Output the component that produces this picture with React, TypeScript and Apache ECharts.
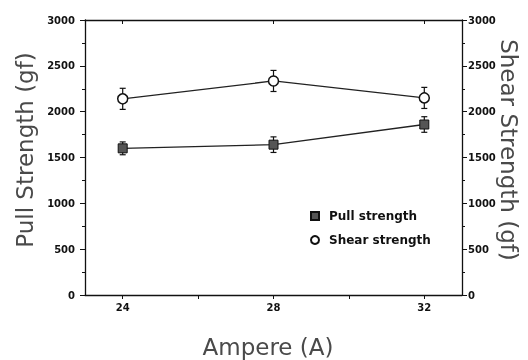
import React, { useEffect, useRef } from "react";
import * as echarts from "echarts";

const amperes = [24, 28, 32];
const pullStrength = [1600, 1640, 1860];
const pullError = [70, 85, 85];
const shearStrength = [2140, 2335, 2150];
const shearError = [115, 115, 115];
const xTickLabels = [24, 28, 32];

const FONT_TICK = "DejaVu Sans";
const FONT_TITLE = "DejaVu Sans";

export default function App() {
  const ref = useRef<HTMLDivElement>(null);
  useEffect(() => {
    if (!ref.current) return;
    const chart = echarts.init(ref.current, undefined, { renderer: "svg" });

    const pullData = amperes.map((a, i) => [a, pullStrength[i]]);
    const shearData = amperes.map((a, i) => [a, shearStrength[i]]);
    const errData = [
      ...amperes.map((a, i) => [a, pullStrength[i] - pullError[i], pullStrength[i] + pullError[i]]),
      ...amperes.map((a, i) => [a, shearStrength[i] - shearError[i], shearStrength[i] + shearError[i]]),
    ];

    const yAxisCommon = {
      type: "value" as const,
      min: 0,
      max: 3000,
      interval: 500,
      splitLine: { show: false },
      axisLine: { show: true, lineStyle: { color: "#111", width: 1.3 } },
      axisTick: { show: true, length: 5, lineStyle: { color: "#111" } },
      minorTick: { show: true, splitNumber: 2, length: 3, lineStyle: { color: "#111" } },
      minorSplitLine: { show: false },
      axisLabel: {
        fontFamily: FONT_TICK,
        fontWeight: "bold" as const,
        fontSize: 10,
        color: "#111",
        formatter: (v: number) => String(v),
      },
    };

    const titleStyle = {
      fontFamily: FONT_TITLE,
      fontSize: 23,
      fill: "#4a4a4a",
      align: "center" as const,
      verticalAlign: "middle" as const,
    };

    chart.setOption({
      animation: false,
      grid: { left: 85, right: 66, top: 20, bottom: 65, containLabel: false },
      xAxis: [
        {
          type: "value",
          min: 23,
          max: 33,
          splitLine: { show: false },
          axisLine: { show: true, onZero: false, lineStyle: { color: "#111", width: 1.3 } },
          axisTick: { show: true, length: 4, customValues: [24, 26, 28, 30, 32], lineStyle: { color: "#111" } },
          axisLabel: {
            customValues: xTickLabels,
            margin: 7,
            fontFamily: FONT_TICK,
            fontWeight: "bold",
            fontSize: 10,
            color: "#111",
          },
        },
        {
          type: "value",
          position: "top",
          min: 23,
          max: 33,
          splitLine: { show: false },
          axisLine: { show: true, onZero: false, lineStyle: { color: "#111", width: 1.3 } },
          axisTick: { show: true, inside: true, length: 4, customValues: [24, 28, 32], lineStyle: { color: "#111" } },
          axisLabel: { show: false },
        },
      ],
      yAxis: [
        { ...yAxisCommon, position: "left", axisLabel: { ...yAxisCommon.axisLabel, margin: 10 } },
        { ...yAxisCommon, position: "right", axisLabel: { ...yAxisCommon.axisLabel, margin: 6 } },
      ],
      legend: {
        orient: "vertical",
        left: 305,
        top: 205,
        itemWidth: 8,
        itemHeight: 8,
        itemGap: 12,
        textStyle: {
          fontFamily: FONT_TICK,
          fontWeight: "bold",
          fontSize: 12,
          color: "#111",
          padding: [0, 0, 0, 5],
        },
        data: [
          { name: "Pull strength", icon: "rect" },
          { name: "Shear strength", icon: "circle" },
        ],
      },
      graphic: [
        {
          type: "text",
          x: 25,
          y: 150,
          rotation: Math.PI / 2,
          style: { ...titleStyle, text: "Pull Strength (gf)" },
        },
        {
          type: "text",
          x: 509,
          y: 150,
          rotation: -Math.PI / 2,
          style: { ...titleStyle, text: "Shear Strength (gf)" },
        },
        {
          type: "text",
          x: 268,
          y: 347,
          style: { ...titleStyle, text: "Ampere (A)" },
        },
      ],
      series: [
        {
          type: "custom",
          name: "error",
          xAxisIndex: 0,
          yAxisIndex: 0,
          z: 1,
          silent: true,
          renderItem: (params: any, api: any) => {
            const x = api.value(0);
            const lo = api.coord([x, api.value(1)]);
            const hi = api.coord([x, api.value(2)]);
            const w = 3;
            const style = { stroke: "#111", lineWidth: 1.2 };
            return {
              type: "group",
              children: [
                { type: "line", shape: { x1: lo[0], y1: lo[1], x2: hi[0], y2: hi[1] }, style },
                { type: "line", shape: { x1: lo[0] - w, y1: lo[1], x2: lo[0] + w, y2: lo[1] }, style },
                { type: "line", shape: { x1: hi[0] - w, y1: hi[1], x2: hi[0] + w, y2: hi[1] }, style },
              ],
            };
          },
          encode: { x: 0, y: [1, 2] },
          data: errData,
        },
        {
          type: "line",
          name: "Pull strength",
          xAxisIndex: 0,
          yAxisIndex: 0,
          z: 3,
          data: pullData,
          symbol: "rect",
          symbolSize: 9,
          lineStyle: { color: "#222", width: 1.3 },
          itemStyle: { color: "#555", borderColor: "#111", borderWidth: 1 },
        },
        {
          type: "line",
          name: "Shear strength",
          xAxisIndex: 0,
          yAxisIndex: 1,
          z: 3,
          data: shearData,
          symbol: "circle",
          symbolSize: 10,
          lineStyle: { color: "#222", width: 1.3 },
          itemStyle: { color: "#fff", borderColor: "#111", borderWidth: 1.5 },
        },
      ],
    });
    return () => chart.dispose();
  }, []);
  return <div ref={ref} style={{ position: "fixed", left: 0, top: 0, width: 528, height: 360 }} />;
}
